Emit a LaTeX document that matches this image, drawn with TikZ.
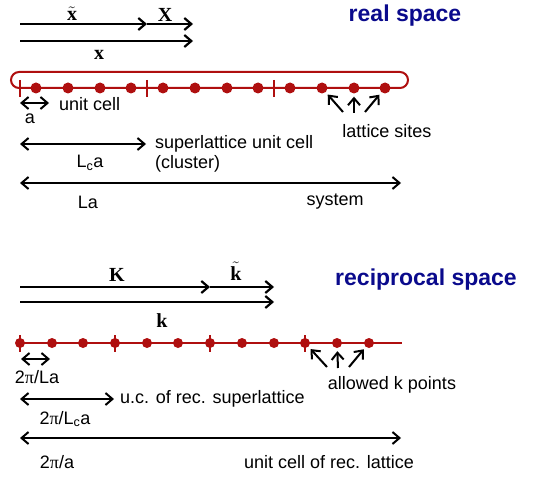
\documentclass[tikz,border=0pt]{standalone}
\usepackage[no-math]{fontspec}
\setmainfont{Liberation Sans}
\newfontfamily\serifvec{Liberation Serif}
\usetikzlibrary{arrows.meta}
\tikzset{>={Straight Barb[length=7pt,width=12pt]}}
\definecolor{latred}{RGB}{175,15,15}
\definecolor{navy}{RGB}{10,10,140}
\newcommand{\vb}[1]{\hbox{\serifvec\bfseries #1}}
\newcommand{\gpi}{{\serifvec π}}

\begin{document}
\begin{tikzpicture}[x=1pt, y=-1pt,
    vec/.style={line width=2.2pt, ->},
    span/.style={line width=2pt, <->},
    pointer/.style={line width=2pt, ->, shorten >=3pt},
    lbl/.style={font=\fontsize{18}{20}\selectfont, inner sep=0pt},
    vlbl/.style={font=\fontsize{20}{22}\selectfont, inner sep=0pt},
    title/.style={font=\fontsize{23}{26}\selectfont\bfseries, text=navy, inner sep=0pt},
    site/.style={circle, fill=latred, inner sep=0pt, minimum size=11pt},
    cut/.style={latred, line width=2pt}]
    \useasboundingbox (0,0) rectangle (540,476);

    % real space
    \node[title] (rtitle) at (405,16) {real space};
    \coordinate (xo) at (20,24);
    \coordinate (xm) at (147,24);
    \coordinate (xe) at (193,24);
    \coordinate (xxo) at (20,41);
    \coordinate (xxe) at (193,41);
    \draw[vec] (xo) -- (xm);
    \draw[vec] (xm) -- (xe);
    \draw[vec] (xxo) -- (xxe);
    \node[vlbl] (xtl) at (72,14) {$\tilde{\vb{x}}$};
    \node[vlbl] (XL) at (165,15) {\vb{X}};
    \node[vlbl] (xl) at (99,55) {\vb{x}};

    \draw[cut, rounded corners=8pt] (11,72) rectangle (408,88);
    \draw[cut] (20,80) -- (20,97);
    \draw[cut] (147,80) -- (147,97);
    \draw[cut] (274,80) -- (274,97);
    \begin{scope}[every node/.style=site]
      \node (r1) at (36,88) {};
      \node (r2) at (68,88) {};
      \node (r3) at (100,88) {};
      \node (r4) at (131,88) {};
      \node (r5) at (163,88) {};
      \node (r6) at (195,88) {};
      \node (r7) at (227,88) {};
      \node (r8) at (258,88) {};
      \node (r9) at (290,88) {};
      \node (r10) at (322,88) {};
      \node (r11) at (354,88) {};
      \node (r12) at (385,88) {};
    \end{scope}

    \coordinate (rp1) at (343,112);
    \coordinate (rp2) at (354,113);
    \coordinate (rp3) at (365,112);
    \draw[pointer] (rp1) -- (r10);
    \draw[pointer] (rp2) -- (r11);
    \draw[pointer] (rp3) -- (r12);
    \node[lbl] (sites) at (387,131) {lattice sites};

    \coordinate (ua) at (20,103);
    \coordinate (ub) at (49,103);
    \draw[span] (ua) -- (ub);
    \node[lbl, anchor=west] (ucell) at (59,104) {unit cell};
    \node[lbl] (al) at (30,119) {a};

    \coordinate (sa) at (20,144);
    \coordinate (sb) at (146,144);
    \draw[span] (sa) -- (sb);
    \node[lbl, anchor=west, align=left] (scell) at (155,154) {superlattice unit cell\\(cluster)};
    \node[lbl] (lca) at (90,163) {L\textsubscript{c}a};

    \coordinate (ya) at (20,183);
    \coordinate (yb) at (401,183);
    \draw[span] (ya) -- (yb);
    \node[lbl] (la) at (88,202) {La};
    \node[lbl] (sys) at (335,202) {system};

    % reciprocal space
    \node[title] (ktitle) at (426,280) {reciprocal space};
    \coordinate (ko) at (20,287);
    \coordinate (km) at (210,287);
    \coordinate (ke) at (274,287);
    \coordinate (kko) at (20,302);
    \coordinate (kke) at (274,302);
    \draw[vec] (ko) -- (km);
    \draw[vec] (km) -- (ke);
    \draw[vec] (kko) -- (kke);
    \node[vlbl] (KL) at (117,275) {\vb{K}};
    \node[vlbl] (ktl) at (236,271) {$\tilde{\vb{k}}$};
    \node[vlbl] (kl) at (162,321) {\vb{k}};

    \coordinate (la0) at (20,343);
    \coordinate (la1) at (402,343);
    \draw[cut] (la0) -- (la1);
    \draw[cut] (20,335) -- (20,352);
    \draw[cut] (115,335) -- (115,352);
    \draw[cut] (210,335) -- (210,352);
    \draw[cut] (305,335) -- (305,352);
    \begin{scope}[every node/.style={site, minimum size=10pt}]
      \node (k1) at (20,343) {};
      \node (k2) at (52,343) {};
      \node (k3) at (83,343) {};
      \node (k4) at (115,343) {};
      \node (k5) at (147,343) {};
      \node (k6) at (178,343) {};
      \node (k7) at (210,343) {};
      \node (k8) at (242,343) {};
      \node (k9) at (274,343) {};
      \node (k10) at (305,343) {};
      \node (k11) at (337,343) {};
      \node (k12) at (369,343) {};
    \end{scope}

    \coordinate (kp1) at (327,367);
    \coordinate (kp2) at (338,368);
    \coordinate (kp3) at (349,367);
    \draw[pointer] (kp1) -- (k10);
    \draw[pointer] (kp2) -- (k11);
    \draw[pointer] (kp3) -- (k12);
    \node[lbl] (allowed) at (392,385) {allowed k points};

    \coordinate (ba) at (21,359);
    \coordinate (bb) at (50,359);
    \draw[span] (ba) -- (bb);
    \node[lbl] (tpla) at (37,377) {2\gpi/La};

    \coordinate (ca) at (20,399);
    \coordinate (cb) at (114,399);
    \draw[span] (ca) -- (cb);
    \node[lbl, anchor=west] (ucrec) at (120,399) {u.c. of rec. superlattice};
    \node[lbl] (tplca) at (65,419) {2\gpi/L\textsubscript{c}a};

    \coordinate (da) at (20,438);
    \coordinate (db) at (401,438);
    \draw[span] (da) -- (db);
    \node[lbl] (tpa) at (57,462) {2\gpi/a};
    \node[lbl] (ucl) at (329,462) {unit cell of rec. lattice};
\end{tikzpicture}
\end{document}
